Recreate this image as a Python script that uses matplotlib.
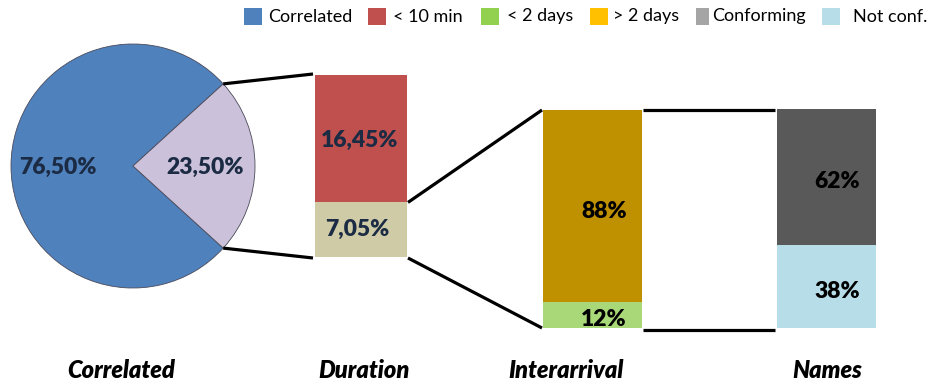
import math
import matplotlib
matplotlib.use("Agg")
import matplotlib.pyplot as plt
from matplotlib.patches import Rectangle

plt.rcParams['font.family'] = ['Lato', 'DejaVu Sans']

# ---- data ----
pie_labels = ["Other", "Correlated"]
pie_values = [76.50, 23.50]
duration_values = [16.45, 7.05]          # < 10 min, remainder
interarrival_values = [88, 12]           # > 2 days, < 2 days
names_values = [62, 38]                  # conforming, not conforming
group_titles = ["Correlated", "Duration", "Interarrival", "Names"]
legend_labels = ["Correlated", "< 10 min", "< 2 days", "> 2 days", "Conforming", "Not conf."]

# ---- styling ----
legend_colors = ["#4F81BD", "#C0504D", "#92D050", "#FFC000", "#A5A5A5", "#B7DEE8"]
pie_colors = ["#4F81BD", "#CCC1DA"]
duration_colors = ["#C0504D", "#D0CBA7"]
interarrival_colors = ["#BF9000", "#A9D879"]
names_colors = ["#595959", "#B7DDE8"]
navy = "#1C2B44"
LBL = dict(fontsize=16.5, fontweight="heavy", ha="center", va="center")


def pct(v, decimals):
    return f"{v:.{decimals}f}".replace(".", ",") + "%"


W, H = 928, 385
fig = plt.figure(figsize=(W / 100, H / 100), dpi=100)
ax = fig.add_axes([0, 0, 1, 1])

# pie
pcx, pcy, pr = 133, 166, 122
half = pie_values[1] / 100 * 360 / 2
ax.pie(pie_values, colors=pie_colors, center=(pcx, pcy), radius=pr,
       startangle=half, counterclock=True,
       wedgeprops=dict(edgecolor="#4a4a5a", linewidth=0.6))
ax.text(58, 167, pct(pie_values[0], 2), color=navy, **LBL)
ax.text(205, 167, pct(pie_values[1], 2), color=navy, **LBL)


def stacked(xc, width, top, bottom, values, colors):
    """Draw a stacked column from top to bottom (pixel space, y down)."""
    span = bottom - top
    total = sum(values)
    edges = [top]
    y = top
    for v, c in zip(values, colors):
        h = v * span / total
        ax.bar(xc, h, width=width, bottom=y, color=c, linewidth=0)
        y += h
        edges.append(y)
    return edges


# Duration column
d_x, d_w = 361, 92
d_edges = stacked(d_x, d_w, 75, 257, duration_values, duration_colors)
ax.text(360, 140, pct(duration_values[0], 2), color=navy, **LBL)
ax.text(357, 229, pct(duration_values[1], 2), color=navy, **LBL)

# Interarrival column
i_x, i_w = 592.5, 99
i_edges = stacked(i_x, i_w, 110, 328, interarrival_values, interarrival_colors)
ax.text(604, 212, pct(interarrival_values[0], 0), color="black", **LBL)
ax.text(604, 320, pct(interarrival_values[1], 0), color="black", **LBL)

# Names column
n_x, n_w = 826.5, 99
n_edges = stacked(n_x, n_w, 109, 328, names_values, names_colors)
ax.text(837, 182, pct(names_values[0], 0), color="black", **LBL)
ax.text(837, 292, pct(names_values[1], 0), color="black", **LBL)

# connector lines
a = math.radians(half)
wx = pcx + pr * math.cos(a)
wy_top = pcy - pr * math.sin(a)
wy_bot = pcy + pr * math.sin(a)
lk = dict(color="black", linewidth=2.3, solid_capstyle="butt")
d_l, d_r = d_x - d_w / 2, d_x + d_w / 2
i_l, i_r = i_x - i_w / 2, i_x + i_w / 2
n_l = n_x - n_w / 2
ax.plot([wx, d_l - 2], [wy_top, d_edges[0] - 1], **lk)
ax.plot([wx, d_l - 2], [wy_bot, d_edges[-1] + 1], **lk)
ax.plot([d_r + 1, i_l - 1], [d_edges[1], i_edges[0]], **lk)
ax.plot([d_r + 1, i_l - 1], [d_edges[-1] + 1, i_edges[-1]], **lk)
ax.plot([i_r + 1, n_l - 2], [i_edges[0], i_edges[0]], **lk)
ax.plot([i_r + 1, n_l - 2], [i_edges[-1] + 2, i_edges[-1] + 2], **lk)

# group titles
for t, x in zip(group_titles, [121, 364, 566, 827]):
    ax.text(x, 371, t, ha="center", va="center", fontsize=17,
            fontweight="heavy", style="italic", color="black")

# legend
sq_x = [244, 368, 481, 590, 696, 822]
sq_w = [18, 18, 18, 18, 13, 18]
tx_x = [268, 393, 507, 613, 712, 853]
for lab, c, sx, sw, tx in zip(legend_labels, legend_colors, sq_x, sq_w, tx_x):
    ax.add_patch(Rectangle((sx, 8), sw, 17, facecolor=c, edgecolor="none"))
    ax.text(tx, 16.5, lab, ha="left", va="center", fontsize=13, color="black")

ax.set_xlim(0, W)
ax.set_ylim(H, 0)
ax.set_aspect("auto")
ax.axis("off")
fig.savefig("out.png", dpi=100)
